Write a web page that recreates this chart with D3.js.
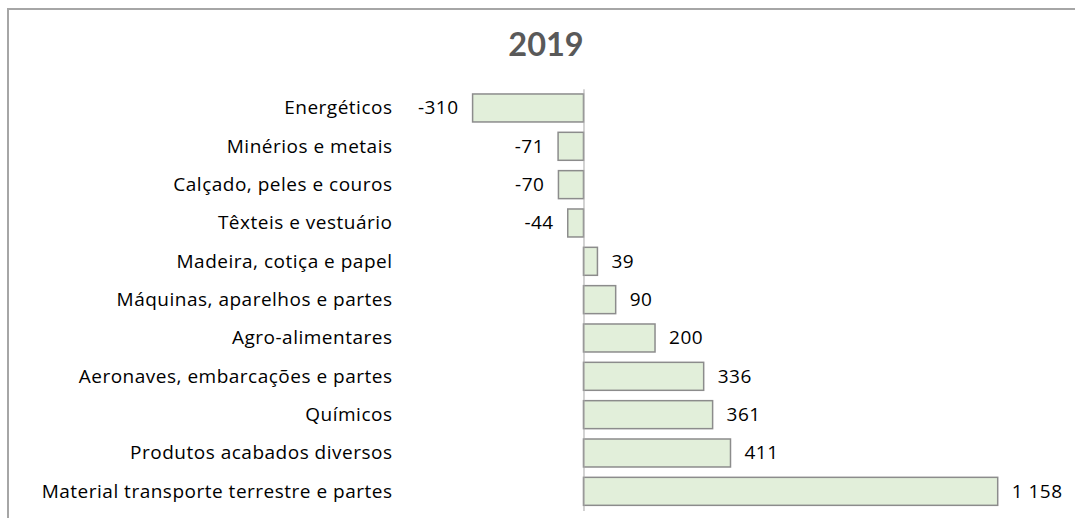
<!DOCTYPE html>
<html>
<head>
<meta charset="utf-8">
<script src="https://cdn.jsdelivr.net/npm/d3@7"></script>
<style>
  html, body { margin: 0; padding: 0; background: #fff; }
  svg { display: block; }
</style>
</head>
<body>
<svg id="chart" width="1075" height="518"></svg>
<script>
// Saldo por grupo de produtos, 2019
const title = "2019";
const categories = [
  "Energéticos",
  "Minérios e metais",
  "Calçado, peles e couros",
  "Têxteis e vestuário",
  "Madeira, cotiça e papel",
  "Máquinas, aparelhos e partes",
  "Agro-alimentares",
  "Aeronaves, embarcações e partes",
  "Químicos",
  "Produtos acabados diversos",
  "Material transporte terrestre e partes"
];
const values = [-310, -71, -70, -44, 39, 90, 200, 336, 361, 411, 1158];

const svg = d3.select("#chart");
const font = "'Open Sans', sans-serif";
const labelSize = 19;
const spacing = 0.5;

// outer chart frame (runs past the right and bottom edges)
svg.append("rect")
  .attr("x", 8).attr("y", 9)
  .attr("width", 1076).attr("height", 520)
  .attr("fill", "#fff")
  .attr("stroke", "#a6a6a6")
  .attr("stroke-width", 2);

svg.append("text")
  .attr("x", 546).attr("y", 56)
  .attr("text-anchor", "middle")
  .attr("font-family", "Lato, sans-serif")
  .attr("font-weight", "bold")
  .attr("font-size", 32.5)
  .attr("fill", "#595959")
  .text(title);

const x = d3.scaleLinear()
  .domain([-310, 1158])
  .range([472.6, 997.7]);

const y = d3.scaleBand()
  .domain(categories)
  .range([88.8, 510.5])
  .paddingInner(0.27)
  .paddingOuter(0.135);

const fmt = v => {
  const s = d3.format(",")(Math.abs(v)).replace(/,/g, " ");
  return (v < 0 ? "-" : "") + s;
};

const rows = categories.map((c, i) => ({ c, v: values[i] }));

// bars
svg.append("g").selectAll("rect")
  .data(rows)
  .join("rect")
  .attr("x", d => x(Math.min(0, d.v)))
  .attr("y", d => y(d.c))
  .attr("width", d => Math.abs(x(d.v) - x(0)))
  .attr("height", y.bandwidth())
  .attr("fill", "#e2efda")
  .attr("stroke", "#8c8c8c")
  .attr("stroke-width", 1.5);

// vertical category axis at zero
const axis = svg.append("g")
  .attr("transform", `translate(${x(0)},0)`)
  .call(d3.axisLeft(y).tickSize(0).tickPadding(x(0) - 392 - spacing));
axis.select(".domain")
  .attr("stroke", "#a6a6a6")
  .attr("stroke-width", 1);
axis.selectAll("text")
  .attr("font-family", font)
  .attr("font-size", labelSize)
  .attr("letter-spacing", spacing)
  .attr("dy", "0.34em")
  .attr("fill", "#000");

// value labels
svg.append("g").selectAll("text")
  .data(rows)
  .join("text")
  .attr("x", d => d.v < 0 ? x(d.v) - 14.5 + spacing : x(d.v) + 14)
  .attr("y", d => y(d.c) + y.bandwidth() / 2)
  .attr("dy", "0.34em")
  .attr("text-anchor", d => d.v < 0 ? "end" : "start")
  .attr("font-family", font)
  .attr("font-size", labelSize)
  .attr("letter-spacing", spacing)
  .attr("fill", "#000")
  .text(d => fmt(d.v));
</script>
</body>
</html>
